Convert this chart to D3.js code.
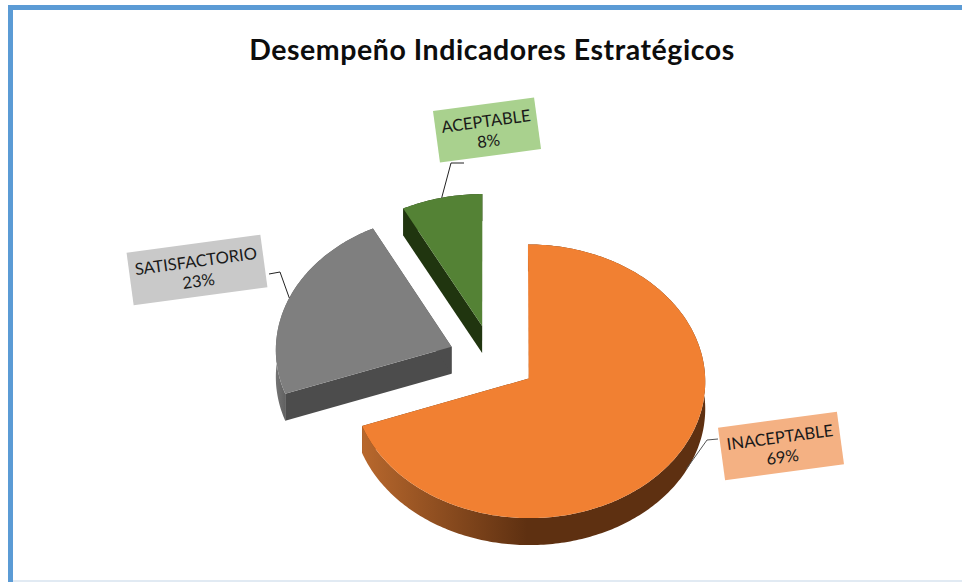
<!DOCTYPE html>
<html><head><meta charset="utf-8">
<script src="https://cdn.jsdelivr.net/npm/d3@7"></script>
<style>html,body{margin:0;padding:0;background:#fff}svg{display:block}</style>
</head><body><svg id="c" width="962" height="582"></svg>
<script>
const title = "Desempeño Indicadores Estratégicos";
const categories = ["INACEPTABLE", "SATISFACTORIO", "ACEPTABLE"];
const values = [69.4, 23.0, 7.6];
const topColors = ["#f18032", "#7f7f7f", "#548235"];
const cutColors = ["#5e3011", "#4c4c4c", "#20350f"];
const wallFrom = ["#b8682d", "#747474", "#20350f"];
const wallTo = ["#5e3011", "#5c5c5c", "#20350f"];
const labelFills = ["#f4b183", "#c9c9c9", "#a9d18e"];

const W = 962, H = 582;
const svg = d3.select("#c");
const cx = 492.5, cy = 359, rx = 176, ry = 136, k = 0.02, explode = 0.25, depth = 27;
const labelCenters = [[781, 446], [197, 270], [487, 130]];
const labelSizes = [[120, 53], [135, 53], [102, 52]];
const elbows = [[[707, 440], [718, 439]], [[280, 272], [269, 274]], [[451, 163], [464, 163]]];
const labelAngle = -7.7;

// chrome
svg.append("rect").attr("width", W).attr("height", H).attr("fill", "#fff");
svg.append("rect").attr("x", 8).attr("y", 5).attr("width", W - 8).attr("height", 5).attr("fill", "#5b9bd5");
svg.append("rect").attr("x", 8).attr("y", 5).attr("width", 5).attr("height", H - 5).attr("fill", "#5b9bd5");
svg.append("rect").attr("x", 13).attr("y", 580).attr("width", W - 13).attr("height", 2).attr("fill", "#e1eaf3");

svg.append("text").attr("x", 492).attr("y", 60).attr("text-anchor", "middle")
  .attr("font-family", "Lato").attr("font-weight", 700).attr("font-size", 28.5)
  .attr("letter-spacing", 0.55).attr("fill", "#0d0d0d").text(title);

const pie = d3.pie().sort(null).value(d => d);
const arcs = pie(values);
const defs = svg.append("defs");

function project(U, V) {
  const w = 1 / (1 + k * V);
  return [cx + rx * U * w, cy - ry * V * w];
}
const line = d3.line();
const fmt = d3.format(".0f");
const total = d3.sum(values);

arcs.forEach((a, i) => {
  const mid = (a.startAngle + a.endAngle) / 2;
  const ox = explode * Math.sin(mid), oy = explode * Math.cos(mid);
  const onRim = t => project(ox + Math.sin(t), oy + Math.cos(t));
  const apex = project(ox, oy);
  const n = Math.max(12, Math.round((a.endAngle - a.startAngle) * 60));
  const rim = d3.range(n + 1).map(j => onRim(a.startAngle + (a.endAngle - a.startAngle) * j / n));
  const down = p => [p[0], p[1] + depth];
  const g = svg.append("g");

  // outer wall shading runs horizontally across the lower front of the slice
  const xs = rim.map(p => p[0]);
  const gradId = "wall" + i;
  const lg = defs.append("linearGradient").attr("id", gradId)
    .attr("gradientUnits", "userSpaceOnUse")
    .attr("x1", d3.min(xs)).attr("x2", d3.min(xs) + (i === 0 ? 165 : 12))
    .attr("y1", 0).attr("y2", 0);
  lg.append("stop").attr("offset", 0).attr("stop-color", wallFrom[i]);
  lg.append("stop").attr("offset", 1).attr("stop-color", wallTo[i]);

  // two cut faces
  [rim[0], rim[n]].forEach(p => {
    g.append("path").attr("d", line([apex, p, down(p), down(apex)]) + "Z").attr("fill", cutColors[i]);
  });
  // outer wall
  g.append("path").attr("d", line(rim.concat(rim.slice().reverse().map(down))) + "Z")
    .attr("fill", `url(#${gradId})`);
  // top
  g.append("path").attr("d", line([apex].concat(rim)) + "Z").attr("fill", topColors[i]);

  // leader line anchored on the rim at the middle of the slice
  const anchor = onRim(mid);
  const start = i === 0 ? [anchor[0] + 11, anchor[1] + 11] : anchor;
  svg.append("path").attr("class", "leader")
    .attr("d", line([start, elbows[i][0], elbows[i][1]]))
    .attr("fill", "none").attr("stroke", i === 0 ? "#555" : "#222").attr("stroke-width", 1);
});

categories.forEach((c, i) => {
  const [lx, ly] = labelCenters[i], [lw, lh] = labelSizes[i];
  const g = svg.append("g").attr("transform", `translate(${lx},${ly}) rotate(${labelAngle})`);
  g.append("rect").attr("x", -lw / 2).attr("y", -lh / 2).attr("width", lw).attr("height", lh).attr("fill", labelFills[i]);
  const t = g.append("text").attr("text-anchor", "middle").attr("font-family", "Lato")
    .attr("font-size", 16.5).attr("fill", "#1a1a1a");
  t.append("tspan").attr("x", 0).attr("y", -3).text(c);
  t.append("tspan").attr("x", 0).attr("y", 17).text(fmt(values[i] / total * 100) + "%");
});
</script></body></html>
